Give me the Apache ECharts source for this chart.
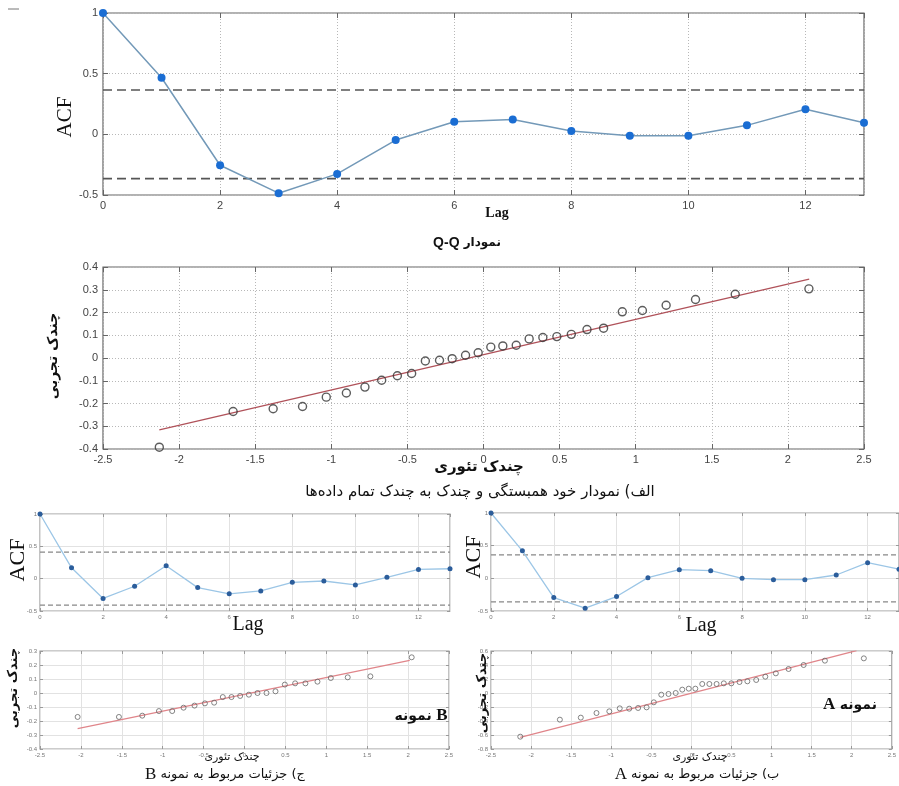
<!DOCTYPE html>
<html>
<head>
<meta charset="utf-8">
<script src="https://cdn.jsdelivr.net/npm/echarts@6/dist/echarts.min.js"></script>
<style>
  html, body { margin: 0; padding: 0; background: #fff; }
  #c { width: 899px; height: 786px; }
</style>
</head>
<body>
<div id="c"></div>
<script>
// ---- data ----
const lags = [0, 1, 2, 3, 4, 5, 6, 7, 8, 9, 10, 11, 12, 13];

// autocorrelation, all data
const acfAll = [1, 0.466, -0.255, -0.485, -0.326, -0.047, 0.104, 0.123, 0.027, -0.011, -0.011, 0.074, 0.206, 0.096];
const boundAll = 0.365;

// Q-Q, all data
const qqAllTheory = [-2.13, -1.645, -1.382, -1.189, -1.033, -0.901, -0.779, -0.669, -0.566, -0.472,
  -0.382, -0.289, -0.206, -0.118, -0.035, 0.048, 0.127, 0.215, 0.300, 0.390,
  0.482, 0.577, 0.680, 0.789, 0.912, 1.044, 1.200, 1.393, 1.654, 2.138];
const qqAllSample = [-0.392, -0.235, -0.223, -0.213, -0.172, -0.154, -0.128, -0.098, -0.078, -0.068,
  -0.013, -0.010, -0.003, 0.012, 0.023, 0.048, 0.053, 0.056, 0.084, 0.090,
  0.094, 0.104, 0.125, 0.131, 0.203, 0.209, 0.232, 0.257, 0.280, 0.304];
const fitAllX = [-2.13, 2.14];
const fitAllY = [-0.316, 0.347];

// sample B
const acfB = [1, 0.168, -0.306, -0.117, 0.199, -0.138, -0.235, -0.189, -0.056, -0.036, -0.097, 0.020, 0.143, 0.153];
const boundB = 0.41;
const qqBTheory = [-2.04, -1.535, -1.25, -1.046, -0.884, -0.745, -0.611, -0.484, -0.371, -0.265,
  -0.159, -0.053, 0.053, 0.159, 0.269, 0.379, 0.493, 0.619, 0.745, 0.892, 1.055, 1.262, 1.539, 2.044];
const qqBSample = [-0.171, -0.171, -0.162, -0.129, -0.129, -0.105, -0.090, -0.074, -0.069, -0.029,
  -0.029, -0.021, -0.012, 0, 0, 0.012, 0.060, 0.069, 0.069, 0.081, 0.107, 0.112, 0.119, 0.255];
const fitBX = [-2.04, 2.02];
const fitBY = [-0.255, 0.233];

// sample A
const acfA = [1, 0.421, -0.294, -0.457, -0.279, 0.01, 0.132, 0.117, 0, -0.02, -0.02, 0.051, 0.239, 0.14];
const boundA = 0.36;
const qqATheory = [-2.135, -1.641, -1.380, -1.184, -1.024, -0.894, -0.776, -0.665, -0.559, -0.469,
  -0.376, -0.286, -0.196, -0.114, -0.033, 0.049, 0.135, 0.224, 0.314, 0.404,
  0.498, 0.600, 0.698, 0.808, 0.922, 1.053, 1.212, 1.400, 1.665, 2.151];
const qqASample = [-0.624, -0.381, -0.352, -0.286, -0.262, -0.219, -0.224, -0.214, -0.205, -0.133,
  -0.024, -0.014, 0, 0.048, 0.062, 0.062, 0.129, 0.129, 0.129, 0.138,
  0.138, 0.157, 0.167, 0.186, 0.233, 0.281, 0.343, 0.400, 0.462, 0.495];
const fitAX = [-2.135, 2.06];
const fitAY = [-0.633, 0.605];

// ---- helpers ----
const SANS = 'Liberation Sans, Arial, sans-serif';
const SERIF = 'Liberation Serif, Times New Roman, serif';
const FA = 'DejaVu Sans, Noto Sans, sans-serif';

const styles = {
  big: { font: 11, color: '#444', frame: '#666', split: { color: '#b8b8b8', type: [1, 2], width: 1 }, tick: 5 },
  small: { font: 6, color: '#777', frame: '#9a9a9a', split: { color: '#e2e2e2', type: 'solid', width: 1 }, tick: 3 }
};

const grids = [];
const xAxes = [];
const yAxes = [];
const series = [];

function panel(box, xr, yr, st, hideMaxX) {
  const gi = grids.length;
  grids.push(Object.assign({ show: true, borderColor: st.frame, borderWidth: 1.2, backgroundColor: '#fff', containLabel: false }, box));
  const common = (r, pos, labels, split, hideMax) => ({
    type: 'value', gridIndex: gi, position: pos, min: r[0], max: r[1], interval: r[2],
    axisLine: { show: false, onZero: false },
    axisTick: { show: true, inside: true, length: st.tick, lineStyle: { color: st.frame } },
    axisLabel: {
      show: labels, fontSize: st.font, color: st.color, fontFamily: SANS,
      margin: st.font > 8 ? 5 : 3, showMaxLabel: !hideMax
    },
    splitLine: { show: split, lineStyle: st.split }
  });
  xAxes.push(common(xr, 'bottom', true, true, hideMaxX));
  yAxes.push(common(yr, 'left', true, true, false));
  xAxes.push(common(xr, 'top', false, false, false));
  yAxes.push(common(yr, 'right', false, false, false));
  return { x: xAxes.length - 2, y: yAxes.length - 2 };
}

function acfSeries(ax, values, bound, look) {
  series.push({
    type: 'line', xAxisIndex: ax.x, yAxisIndex: ax.y,
    data: lags.map((l, i) => [l, values[i]]),
    symbol: 'circle', symbolSize: look.size, showSymbol: true,
    itemStyle: { color: look.dot },
    lineStyle: { color: look.line, width: look.width },
    emphasis: { disabled: true }, z: 3
  });
  [bound, -bound].forEach(b => {
    series.push({
      type: 'line', xAxisIndex: ax.x, yAxisIndex: ax.y,
      data: [[lags[0], b], [lags[lags.length - 1], b]],
      symbol: 'none',
      lineStyle: { color: look.dash, width: look.dashWidth, type: look.dashType },
      emphasis: { disabled: true }, z: 2
    });
  });
}

function qqSeries(ax, tx, sy, fx, fy, look) {
  series.push({
    type: 'line', xAxisIndex: ax.x, yAxisIndex: ax.y,
    data: fx.map((v, i) => [v, fy[i]]), symbol: 'none',
    lineStyle: { color: look.fit, width: look.fitWidth },
    emphasis: { disabled: true }, z: 2
  });
  series.push({
    type: 'scatter', xAxisIndex: ax.x, yAxisIndex: ax.y,
    data: tx.map((v, i) => [v, sy[i]]),
    symbol: 'circle', symbolSize: look.size,
    itemStyle: { color: 'rgba(0,0,0,0)', borderColor: look.ring, borderWidth: look.ringWidth },
    emphasis: { disabled: true }, z: 3
  });
}

// ---- panels ----
const pAcfAll = panel({ left: 103, top: 13, width: 761, height: 182 }, [0, 13, 2], [-0.5, 1, 0.5], styles.big, true);
acfSeries(pAcfAll, acfAll, boundAll, { size: 8, dot: '#1a6dd3', line: '#7399b8', width: 1.5, dash: '#555', dashWidth: 1.6, dashType: [9, 5] });

const pQqAll = panel({ left: 103, top: 267, width: 761, height: 182 }, [-2.5, 2.5, 0.5], [-0.4, 0.4, 0.1], styles.big, false);
qqSeries(pQqAll, qqAllTheory, qqAllSample, fitAllX, fitAllY, { fit: '#b0525a', fitWidth: 1.3, size: 8, ring: '#333', ringWidth: 1.4 });

const pAcfB = panel({ left: 40, top: 514, width: 410, height: 97 }, [0, 13, 2], [-0.5, 1, 0.5], styles.small, true);
acfSeries(pAcfB, acfB, boundB, { size: 5, dot: '#2b5d9b', line: '#9cc6e6', width: 1.3, dash: '#888', dashWidth: 1.3, dashType: [5, 3] });

const pAcfA = panel({ left: 491, top: 513, width: 411, height: 98 }, [0, 13, 2], [-0.5, 1, 0.5], styles.small, true);
acfSeries(pAcfA, acfA, boundA, { size: 5, dot: '#2b5d9b', line: '#9cc6e6', width: 1.3, dash: '#888', dashWidth: 1.3, dashType: [5, 3] });

const pQqB = panel({ left: 40, top: 651, width: 409, height: 98 }, [-2.5, 2.5, 0.5], [-0.4, 0.3, 0.1], styles.small, false);
qqSeries(pQqB, qqBTheory, qqBSample, fitBX, fitBY, { fit: '#e0858a', fitWidth: 1.2, size: 5, ring: '#666', ringWidth: 1 });

const pQqA = panel({ left: 491, top: 651, width: 410, height: 98 }, [-2.5, 2.5, 0.5], [-0.8, 0.6, 0.2], styles.small, false);
qqSeries(pQqA, qqATheory, qqASample, fitAX, fitAY, { fit: '#e0858a', fitWidth: 1.2, size: 5, ring: '#666', ringWidth: 1 });

// ---- text ----
function txt(x, y, text, font, opts) {
  opts = opts || {};
  return {
    type: 'text', x: x, y: y, rotation: opts.rot || 0, z: 10,
    style: {
      text: text, font: font, fill: opts.color || '#111',
      align: 'center', verticalAlign: 'middle', textAlign: 'center', textVerticalAlign: 'middle',
      rich: opts.rich
    }
  };
}
const R90 = Math.PI / 2;
const graphics = [
  { type: 'line', shape: { x1: 8, y1: 9, x2: 19, y2: 9 }, style: { stroke: '#777', lineWidth: 1 } },
  txt(65, 117, 'ACF', '21px ' + SERIF, { rot: R90 }),
  txt(497, 213, 'Lag', 'bold 14px ' + SERIF),
  txt(467, 243, '{q|Q-Q} {f|نمودار}', '13px ' + FA, {
    rich: { q: { font: 'bold 14px ' + SANS, fill: '#111' }, f: { font: 'bold 12px ' + FA, fill: '#111' } }
  }),
  txt(53, 356, 'چندک تجربی', 'bold 14px ' + FA, { rot: R90 }),
  txt(479, 467, 'چندک تئوری', 'bold 15px ' + FA),
  txt(480, 492, 'الف) نمودار خود همبستگی و چندک به چندک تمام داده‌ها', '15px ' + FA),

  txt(18, 560, 'ACF', '22px ' + SERIF, { rot: R90 }),
  txt(248, 625, 'Lag', '20px ' + SERIF),
  txt(474, 557, 'ACF', '22px ' + SERIF, { rot: R90 }),
  txt(701, 626, 'Lag', '20px ' + SERIF),

  txt(14, 688, 'چندک تجربی', 'bold 13px ' + FA, { rot: R90 }),
  txt(483, 693, 'چندک تجربی', 'bold 13px ' + FA, { rot: R90 }),
  txt(421, 716, '{a|نمونه} {b|B}', '14px ' + FA, {
    rich: { a: { font: 'bold 14px ' + FA, fill: '#111' }, b: { font: 'bold 17px ' + SERIF, fill: '#111' } }
  }),
  txt(850, 705, '{b|A} {a|نمونه}', '14px ' + FA, {
    rich: { a: { font: 'bold 14px ' + FA, fill: '#111' }, b: { font: 'bold 17px ' + SERIF, fill: '#111' } }
  }),
  txt(232, 757, 'چندک تئوری', '11px ' + FA),
  txt(700, 757, 'چندک تئوری', '11px ' + FA),
  txt(225, 775, '{b|B} {a|ج) جزئیات مربوط به نمونه}', '13px ' + FA, {
    rich: { a: { font: '13px ' + FA, fill: '#111' }, b: { font: '17px ' + SERIF, fill: '#111' } }
  }),
  txt(697, 775, '{b|A} {a|ب) جزئیات مربوط به نمونه}', '13px ' + FA, {
    rich: { a: { font: '13px ' + FA, fill: '#111' }, b: { font: '17px ' + SERIF, fill: '#111' } }
  })
];

const chart = echarts.init(document.getElementById('c'), null, { renderer: 'canvas', width: 899, height: 786 });
chart.setOption({
  animation: false,
  backgroundColor: '#fff',
  grid: grids,
  xAxis: xAxes,
  yAxis: yAxes,
  series: series,
  graphic: graphics
});
</script>
</body>
</html>
